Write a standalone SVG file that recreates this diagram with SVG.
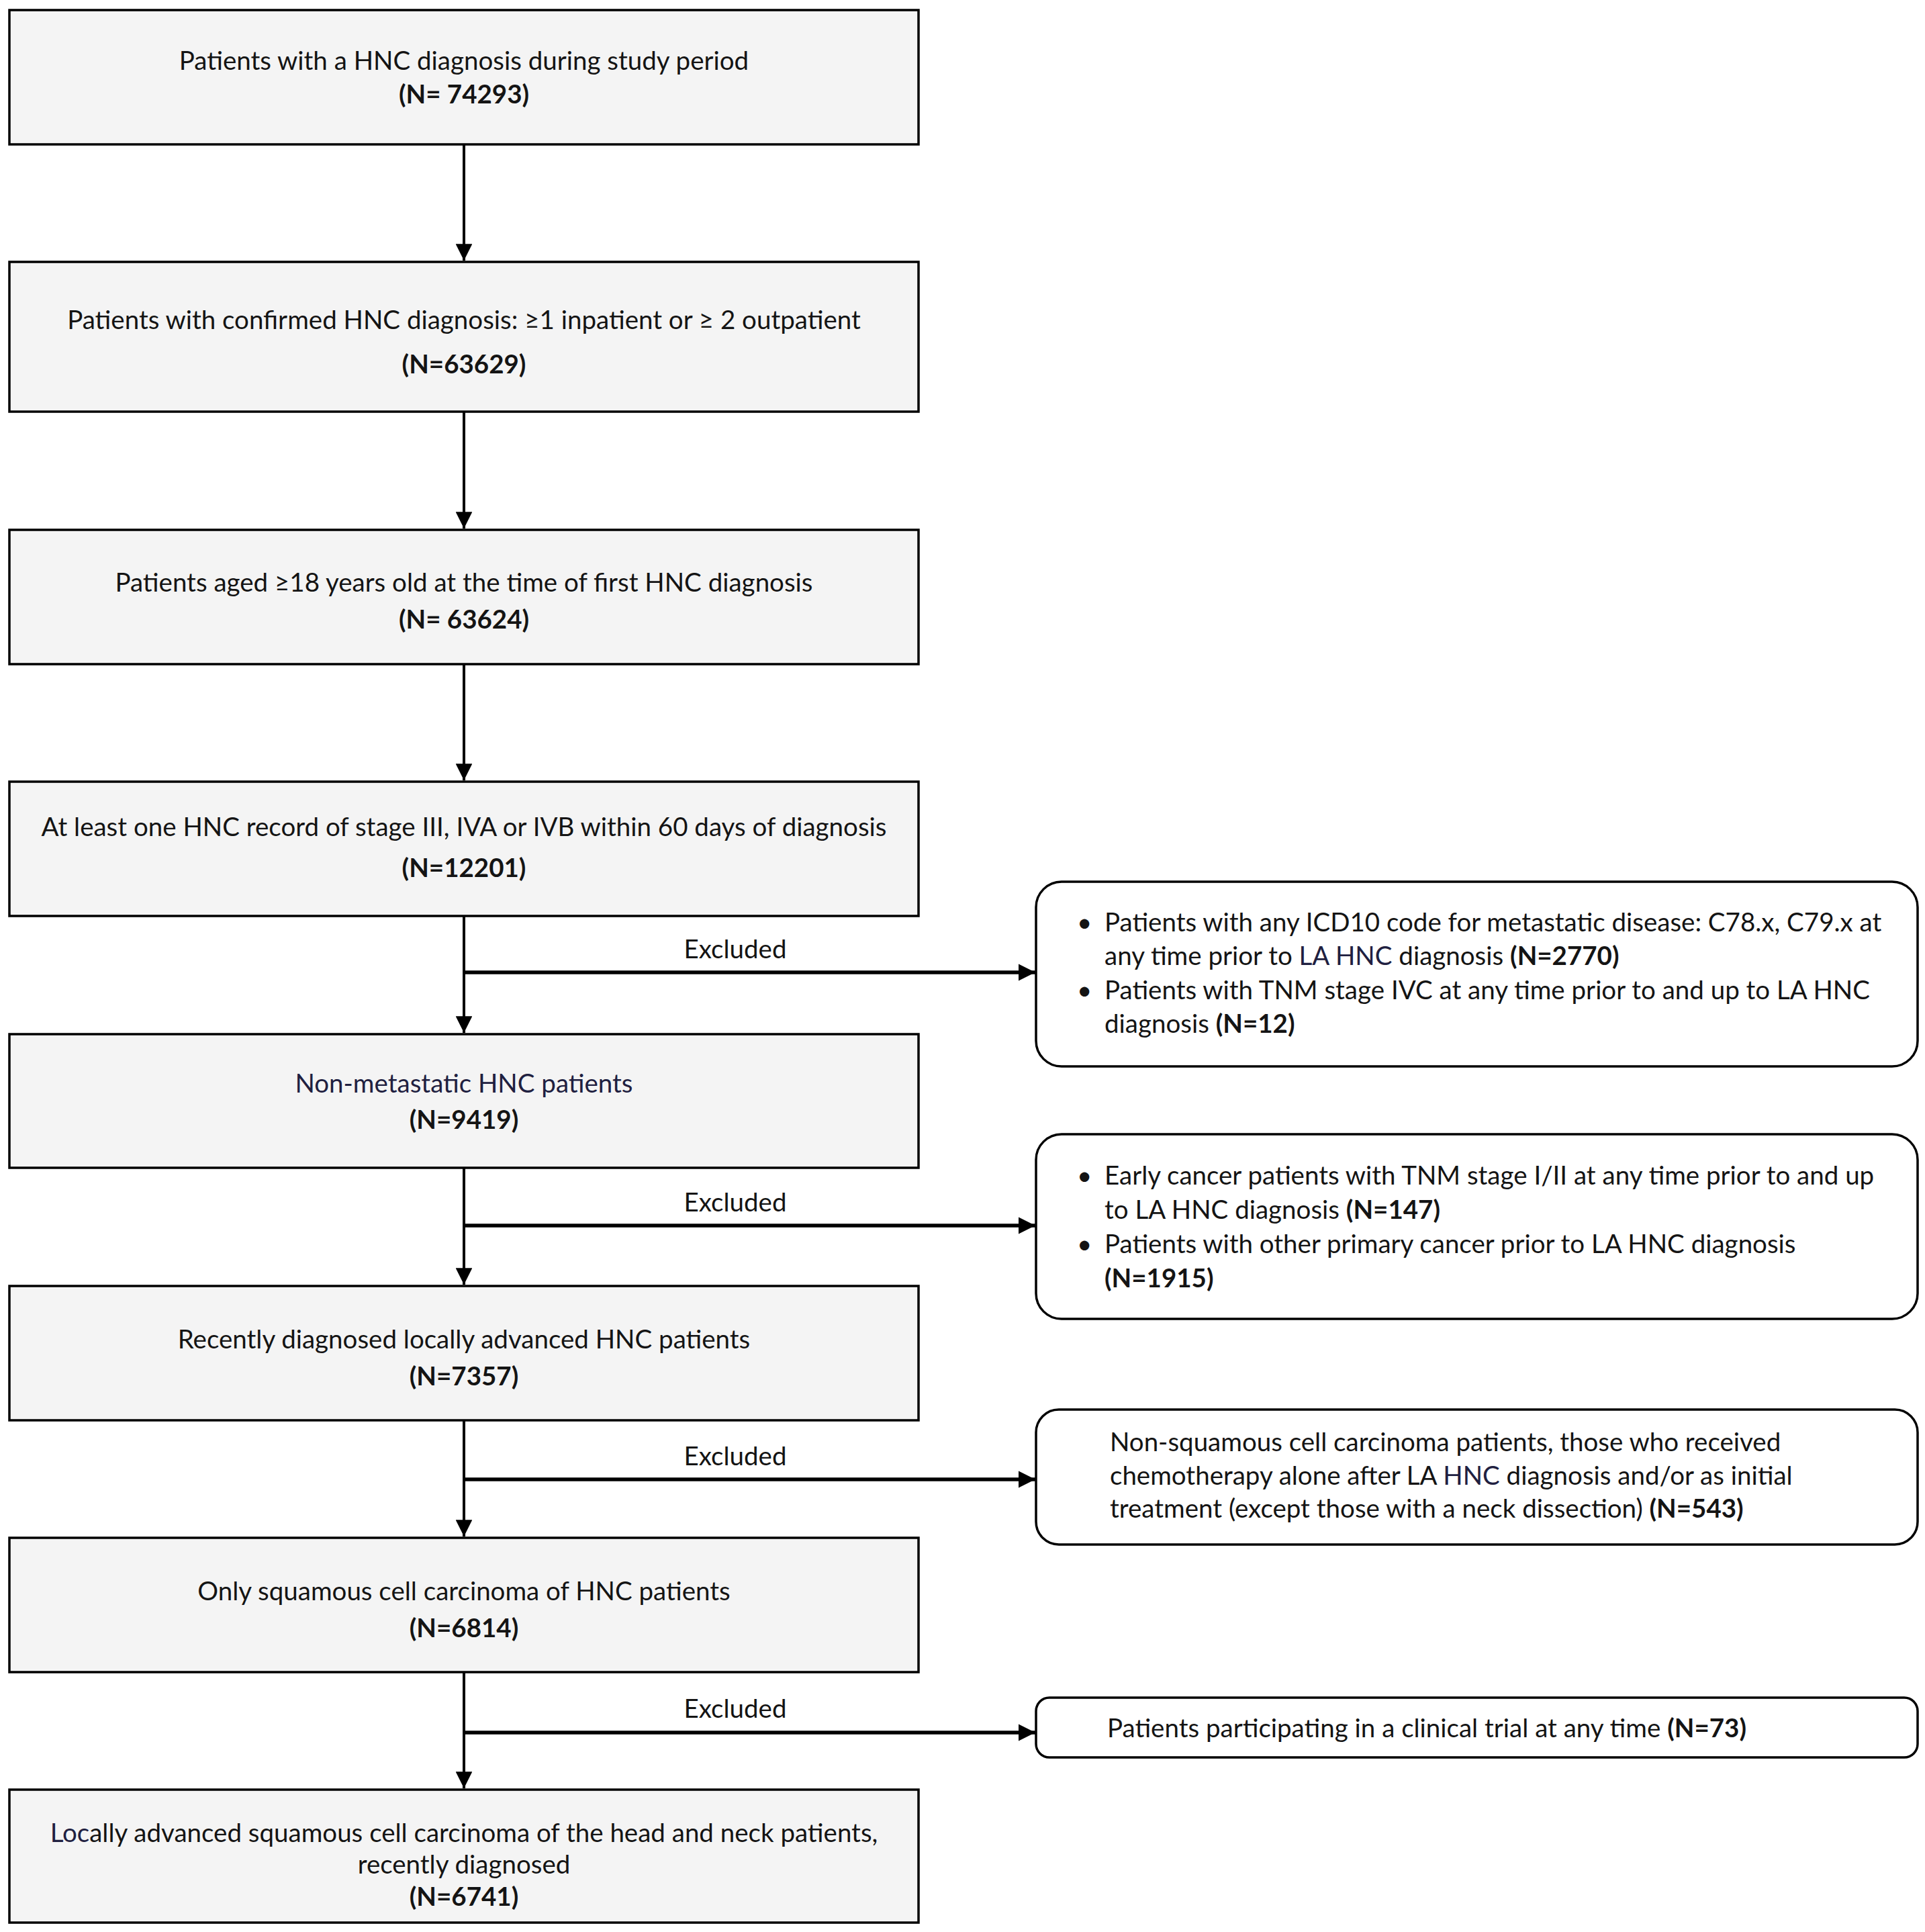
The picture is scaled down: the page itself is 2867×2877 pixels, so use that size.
<svg xmlns="http://www.w3.org/2000/svg" width="2867" height="2877" viewBox="0 0 2867 2877">
<defs>
<style>
.box{fill:#f4f4f4;stroke:#000;stroke-width:3.5}
.side{fill:#fff;stroke:#000;stroke-width:3.5}
text{font-family:Lato,"Liberation Sans",sans-serif;font-size:38.5px;fill:#141414}
.c{text-anchor:middle}
.b{font-weight:bold}
.n{fill:#202040}
.v{stroke:#000;stroke-width:4;fill:none}
.h{stroke:#000;stroke-width:5.5;fill:none}
</style>
<marker id="ah" viewBox="0 0 10 10" refX="10" refY="5" markerWidth="6.2" markerHeight="6.2" markerUnits="strokeWidth" orient="auto">
<path d="M0,0 L10,5 L0,10 Z" fill="#000"/>
</marker>
<marker id="ahh" viewBox="0 0 10 10" refX="10" refY="5" markerWidth="4.6" markerHeight="4.6" markerUnits="strokeWidth" orient="auto">
<path d="M0,0 L10,5 L0,10 Z" fill="#000"/>
</marker>
</defs>
<rect width="2867" height="2877" fill="#fff"/>

<g id="connectors">
<line class="v" x1="691" y1="215" x2="691" y2="388" marker-end="url(#ah)"/>
<line class="v" x1="691" y1="613" x2="691" y2="787" marker-end="url(#ah)"/>
<line class="v" x1="691" y1="989" x2="691" y2="1162" marker-end="url(#ah)"/>
<line class="v" x1="691" y1="1364" x2="691" y2="1538" marker-end="url(#ah)"/>
<line class="v" x1="691" y1="1739" x2="691" y2="1913" marker-end="url(#ah)"/>
<line class="v" x1="691" y1="2115" x2="691" y2="2288" marker-end="url(#ah)"/>
<line class="v" x1="691" y1="2490" x2="691" y2="2663" marker-end="url(#ah)"/>
<line class="h" x1="691" y1="1448" x2="1542" y2="1448" marker-end="url(#ahh)"/>
<line class="h" x1="691" y1="1825" x2="1542" y2="1825" marker-end="url(#ahh)"/>
<line class="h" x1="691" y1="2203" x2="1542" y2="2203" marker-end="url(#ahh)"/>
<line class="h" x1="691" y1="2580" x2="1542" y2="2580" marker-end="url(#ahh)"/>
<text class="c" x="1095" y="1427">Excluded</text>
<text class="c" x="1095" y="1804">Excluded</text>
<text class="c" x="1095" y="2182">Excluded</text>
<text class="c" x="1095" y="2558">Excluded</text>
</g>

<g id="n1">
<rect class="box" x="14" y="15" width="1354" height="200"/>
<text class="c" x="691" y="104">Patients with a HNC diagnosis during study period</text>
<text class="c b" x="691" y="154">(N= 74293)</text>
</g>
<g id="n2">
<rect class="box" x="14" y="390" width="1354" height="223"/>
<text class="c" x="691" y="490">Patients with confirmed HNC diagnosis: ≥1 inpatient or ≥ 2 outpatient</text>
<text class="c b" x="691" y="556">(N=63629)</text>
</g>
<g id="n3">
<rect class="box" x="14" y="789" width="1354" height="200"/>
<text class="c" x="691" y="881">Patients aged ≥18 years old at the time of first HNC diagnosis</text>
<text class="c b" x="691" y="936">(N= 63624)</text>
</g>
<g id="n4">
<rect class="box" x="14" y="1164" width="1354" height="200"/>
<text class="c" x="691" y="1245">At least one HNC record of stage III, IVA or IVB within 60 days of diagnosis</text>
<text class="c b" x="691" y="1306">(N=12201)</text>
</g>
<g id="n5">
<rect class="box" x="14" y="1540" width="1354" height="199"/>
<text class="c n" x="691" y="1627">Non-metastatic HNC patients</text>
<text class="c b" x="691" y="1681">(N=9419)</text>
</g>
<g id="n6">
<rect class="box" x="14" y="1915" width="1354" height="200"/>
<text class="c" x="691" y="2008">Recently diagnosed locally advanced HNC patients</text>
<text class="c b" x="691" y="2063">(N=7357)</text>
</g>
<g id="n7">
<rect class="box" x="14" y="2290" width="1354" height="200"/>
<text class="c" x="691" y="2383">Only squamous cell carcinoma of HNC patients</text>
<text class="c b" x="691" y="2438">(N=6814)</text>
</g>
<g id="n8">
<rect class="box" x="14" y="2665" width="1354" height="198"/>
<text class="c" x="691" y="2743"><tspan class="n">Loc</tspan>ally advanced squamous cell carcinoma of the head and neck patients,</text>
<text class="c" x="691" y="2790">recently diagnosed</text>
<text class="c b" x="691" y="2838">(N=6741)</text>
</g>

<g id="s1">
<rect class="side" x="1543" y="1313" width="1313" height="275" rx="38" ry="38"/>
<text x="1604" y="1387">•</text>
<text x="1645" y="1387">Patients with any  ICD10 code for metastatic disease: C78.x, C79.x at</text>
<text x="1645" y="1437">any time prior to <tspan class="n">LA HNC</tspan>  diagnosis <tspan class="b">(N=2770)</tspan></text>
<text x="1604" y="1488">•</text>
<text x="1645" y="1488">Patients with TNM stage IVC at any time prior to and up to LA HNC</text>
<text x="1645" y="1538">diagnosis <tspan class="b">(N=12)</tspan></text>
</g>
<g id="s2">
<rect class="side" x="1543" y="1689" width="1313" height="275" rx="38" ry="38"/>
<text x="1604" y="1764">•</text>
<text x="1645" y="1764">Early cancer patients with TNM  stage I/II at any time prior to and up</text>
<text x="1645" y="1815">to LA HNC diagnosis <tspan class="b">(N=147)</tspan></text>
<text x="1604" y="1866">•</text>
<text x="1645" y="1866">Patients with other primary cancer prior to LA HNC diagnosis</text>
<text x="1645" y="1917"><tspan class="b">(N=1915)</tspan></text>
</g>
<g id="s3">
<rect class="side" x="1543" y="2099" width="1313" height="201" rx="34" ry="34"/>
<text x="1653" y="2161">Non-squamous  cell carcinoma patients, those who received</text>
<text x="1653" y="2211">chemotherapy alone after LA <tspan class="n">HNC</tspan>  diagnosis  and/or as initial</text>
<text x="1653" y="2260">treatment (except those  with a neck  dissection) <tspan class="b">(N=543)</tspan></text>
</g>
<g id="s4">
<rect class="side" x="1543" y="2528" width="1313" height="89" rx="20" ry="20"/>
<text x="1649" y="2587">Patients participating in a clinical trial at any time <tspan class="b">(N=73)</tspan></text>
</g>
</svg>
